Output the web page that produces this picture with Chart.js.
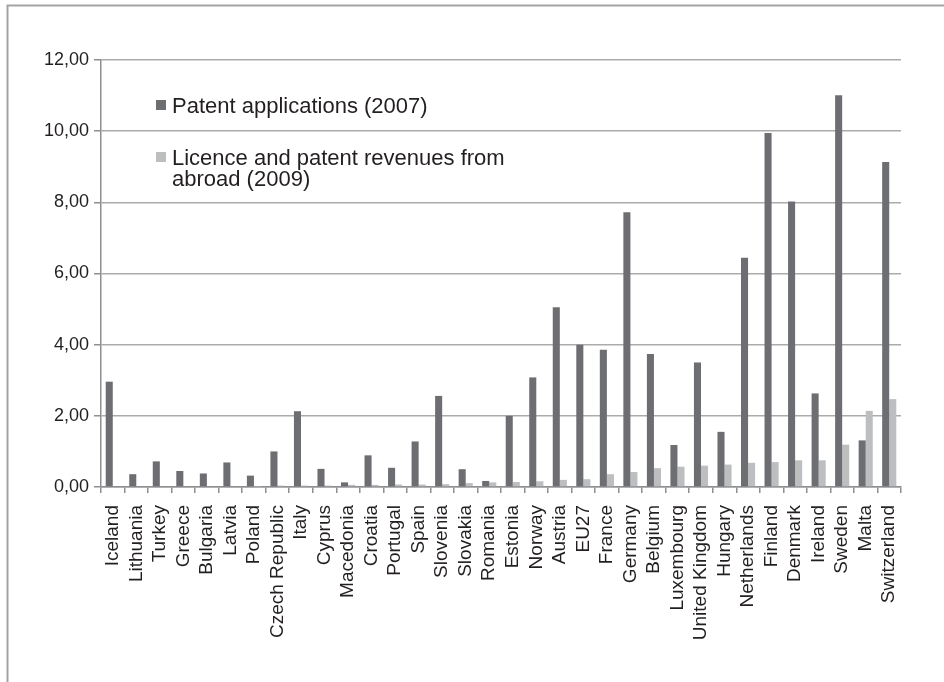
<!DOCTYPE html>
<html>
<head>
<meta charset="utf-8">
<script src="https://cdn.jsdelivr.net/npm/chart.js@4.4.0/dist/chart.umd.min.js"></script>
<style>
  html, body { margin: 0; padding: 0; background: #fff; overflow: hidden; }
  #chart { display: block; }
</style>
</head>
<body>
<canvas id="chart" width="944" height="682"></canvas>
<script>
// data
var countries = ['Iceland', 'Lithuania', 'Turkey', 'Greece', 'Bulgaria', 'Latvia', 'Poland',
    'Czech Republic', 'Italy', 'Cyprus', 'Macedonia', 'Croatia', 'Portugal', 'Spain', 'Slovenia',
    'Slovakia', 'Romania', 'Estonia', 'Norway', 'Austria', 'EU27', 'France', 'Germany', 'Belgium',
    'Luxembourg', 'United Kingdom', 'Hungary', 'Netherlands', 'Finland', 'Denmark', 'Ireland',
    'Sweden', 'Malta', 'Switzerland'];
var patentApps = [2.96, 0.36, 0.72, 0.45, 0.38, 0.69, 0.32, 1.00, 2.13, 0.51, 0.13, 0.89, 0.54,
    1.28, 2.56, 0.50, 0.17, 2.00, 3.08, 5.05, 4.00, 3.86, 7.72, 3.74, 1.18, 3.50, 1.55, 6.44,
    9.95, 8.02, 2.63, 11.01, 1.31, 9.13];
var licenceRevenues = [0, 0, 0, 0, 0, 0, 0.01, 0.04, 0.04, 0.04, 0.06, 0.06, 0.07, 0.07, 0.08,
    0.11, 0.13, 0.14, 0.16, 0.20, 0.22, 0.36, 0.42, 0.53, 0.57, 0.60, 0.63, 0.68, 0.70, 0.75,
    0.75, 1.19, 2.14, 2.47];
var seriesLabels = ['Patent applications (2007)', 'Licence and patent revenues from abroad (2009)'];
var yTicks = [0, 2, 4, 6, 8, 10, 12];

var textColor = '#231f20';
var font = 'Liberation Sans, Arial, sans-serif';

// frame round the picture (only top and left edges show)
var framePlugin = {
    id: 'frame',
    beforeDraw: function (chart) {
        var ctx = chart.ctx;
        ctx.save();
        ctx.strokeStyle = '#a3a3a3';
        ctx.lineWidth = 2;
        ctx.beginPath();
        ctx.moveTo(7.5, chart.height);
        ctx.lineTo(7.5, 5.5);
        ctx.lineTo(chart.width, 5.5);
        ctx.stroke();
        ctx.restore();
    }
};

// legend drawn inside the plot, wrapping the long label
var legendPlugin = {
    id: 'insideLegend',
    afterDatasetsDraw: function (chart) {
        var ctx = chart.ctx;
        var x = 156, textX = 172, maxW = 350, lineH = 21;
        var baselines = [113, 165];
        ctx.save();
        ctx.font = '22px ' + font;
        ctx.textBaseline = 'alphabetic';
        chart.data.datasets.forEach(function (ds, i) {
            var words = ds.label.split(' ');
            var lines = [], cur = '';
            words.forEach(function (w) {
                var test = cur ? cur + ' ' + w : w;
                if (ctx.measureText(test).width > maxW && cur) {
                    lines.push(cur);
                    cur = w;
                } else {
                    cur = test;
                }
            });
            lines.push(cur);
            var y = baselines[i];
            ctx.fillStyle = ds.backgroundColor;
            ctx.fillRect(x, y - 13, 10, 10);
            ctx.fillStyle = textColor;
            lines.forEach(function (ln, k) {
                ctx.fillText(ln, textX, y + k * lineH);
            });
        });
        ctx.restore();
    }
};

var ctx = document.getElementById('chart').getContext('2d');
var myChart = new Chart(ctx, {
    type: 'bar',
    data: {
        labels: countries,
        datasets: [{
                label: seriesLabels[0],
                data: patentApps,
                backgroundColor: '#6d6e71',
                categoryPercentage: 0.6,
                barPercentage: 1.0
            }, {
                label: seriesLabels[1],
                data: licenceRevenues,
                backgroundColor: '#bcbec0',
                categoryPercentage: 0.6,
                barPercentage: 1.0
            }]
    },
    options: {
        responsive: false,
        animation: false,
        devicePixelRatio: 1,
        layout: {
            padding: {left: 0, right: 43, top: 60, bottom: 0}
        },
        plugins: {
            legend: {display: false},
            tooltip: {enabled: false}
        },
        scales: {
            x: {
                afterFit: function (s) { s.height = 195; },
                border: {color: '#8e8e93', width: 1.5},
                grid: {
                    drawOnChartArea: false,
                    drawTicks: true,
                    tickLength: 6,
                    color: '#8e8e93',
                    lineWidth: 1.5
                },
                ticks: {
                    autoSkip: false,
                    minRotation: 90,
                    maxRotation: 90,
                    padding: 12,
                    color: textColor,
                    font: {family: font, size: 19}
                }
            },
            y: {
                min: 0,
                max: 12,
                afterFit: function (s) { s.width = 101; },
                afterBuildTicks: function (s) {
                    s.ticks = yTicks.map(function (v) { return {value: v}; });
                },
                border: {color: '#8e8e93', width: 1.5},
                grid: {
                    color: '#ababab',
                    lineWidth: 1.5,
                    drawTicks: true,
                    tickLength: 7,
                    tickColor: '#8e8e93'
                },
                ticks: {
                    padding: 5,
                    color: textColor,
                    font: {family: font, size: 18},
                    callback: function (v) {
                        return v.toFixed(2).replace('.', ',');
                    }
                }
            }
        }
    },
    plugins: [framePlugin, legendPlugin]
});
</script>
</body>
</html>
